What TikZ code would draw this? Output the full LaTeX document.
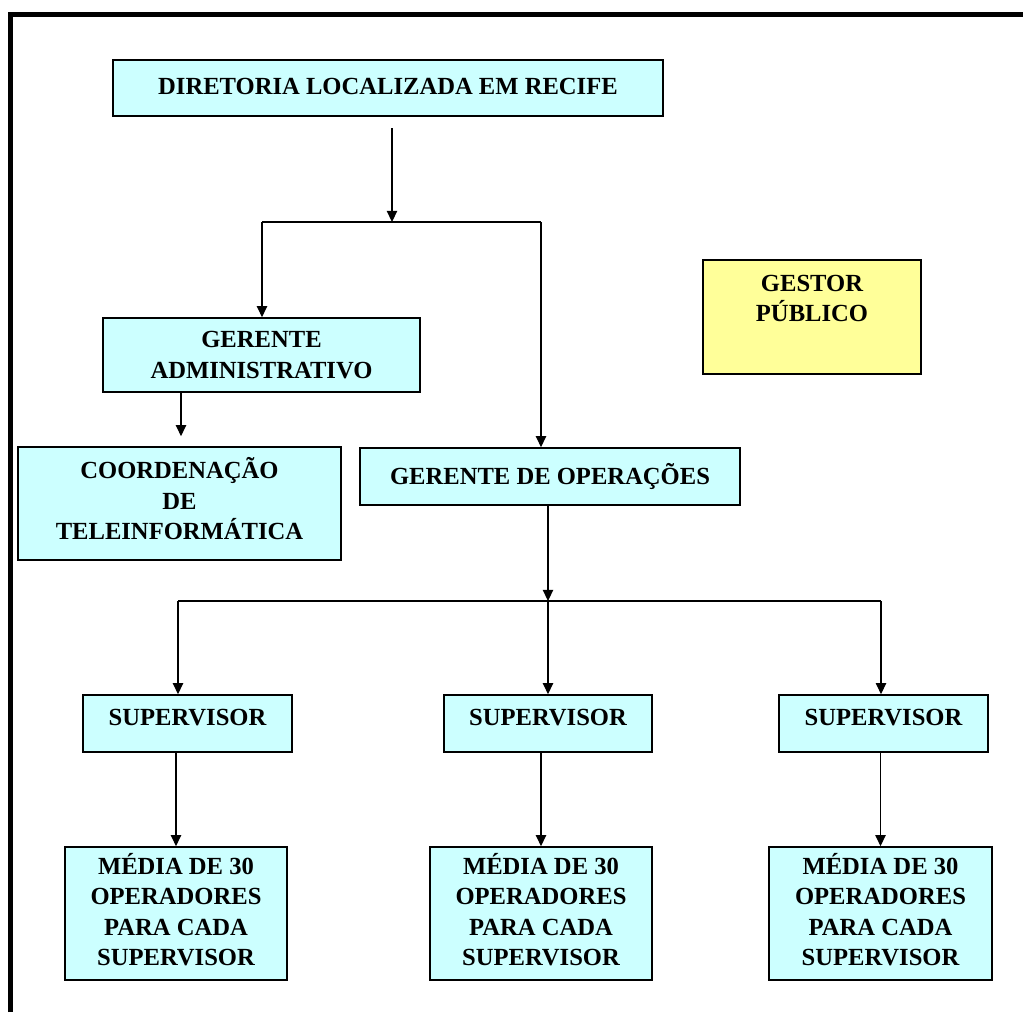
\documentclass[tikz,border=0pt]{standalone}
\usepackage{fontspec}
\setmainfont{Liberation Serif}
\usetikzlibrary{arrows.meta}
\definecolor{boxcyan}{HTML}{CCFFFF}
\definecolor{boxyellow}{HTML}{FFFF99}
\tikzset{
  orgbox/.style={draw, line width=1.1pt, fill=boxcyan, align=center, inner sep=2pt,
    font=\fontsize{17.5}{21.5}\selectfont\bfseries},
  gestorbox/.style={orgbox, fill=boxyellow},
  link/.style={line width=0.9pt},
  arr/.style={link, -{Triangle[length=0.28cm,width=0.26cm]}},
}
\begin{document}
\begin{tikzpicture}[x=0.025cm,y=-0.025cm]
\useasboundingbox (0,0) rectangle (1023,1012);
\fill[white] (0,0) rectangle (1023,1012);
\draw[line width=3.9pt] (10.3,1012) -- (10.3,14.7) -- (1023,14.7);

\node[orgbox, minimum width=13.75cm, minimum height=1.4cm, text depth=0.1cm] (diretoria) at (388,88) {DIRETORIA LOCALIZADA EM RECIFE};
\node[orgbox, minimum width=7.925cm, minimum height=1.85cm] (gadm) at (261.5,355) {GERENTE\\ADMINISTRATIVO};
\node[orgbox, minimum width=8.075cm, minimum height=2.825cm, text depth=0.25cm] (coord) at (179.5,503.5) {COORDENAÇÃO\\DE\\TELEINFORMÁTICA};
\node[orgbox, minimum width=9.5cm, minimum height=1.425cm, text depth=0.12cm] (gop) at (550,476.5) {GERENTE DE OPERAÇÕES};
\node[gestorbox, minimum width=5.45cm, minimum height=2.85cm, text depth=0.95cm] (gestor) at (812,317) {GESTOR\\PÚBLICO};

\node[orgbox, minimum width=5.225cm, minimum height=1.425cm, text depth=0.3cm] (sup1) at (187.5,723.5) {SUPERVISOR};
\node[orgbox, minimum width=5.2cm, minimum height=1.425cm, text depth=0.3cm] (sup2) at (548,723.5) {SUPERVISOR};
\node[orgbox, minimum width=5.225cm, minimum height=1.425cm, text depth=0.3cm] (sup3) at (883.5,723.5) {SUPERVISOR};

\node[orgbox, minimum width=5.55cm, minimum height=3.325cm, text depth=0.2cm] (media1) at (176,913.5) {MÉDIA DE 30\\OPERADORES\\PARA CADA\\SUPERVISOR};
\node[orgbox, minimum width=5.55cm, minimum height=3.325cm, text depth=0.2cm] (media2) at (541,913.5) {MÉDIA DE 30\\OPERADORES\\PARA CADA\\SUPERVISOR};
\node[orgbox, minimum width=5.575cm, minimum height=3.325cm, text depth=0.2cm] (media3) at (880.5,913.5) {MÉDIA DE 30\\OPERADORES\\PARA CADA\\SUPERVISOR};

\coordinate (top) at (392,128);
\coordinate (split) at (392,222);
\coordinate (splitl) at (262,222);
\coordinate (splitr) at (541,222);
\coordinate (down) at (181,0);
\coordinate (fork) at (548,601);
\coordinate (forkl) at (178,601);
\coordinate (forkr) at (881,601);

\draw[arr] (top) -- (split);
\draw[link] (splitl) -- (splitr);
\draw[arr] (splitl) -- (gadm.north -| splitl);
\draw[arr] (splitr) -- (gop.north -| splitr);
\draw[arr, shorten >=0.25cm] (gadm.south -| down) -- (coord.north -| down);

\draw[arr] (gop.south -| fork) -- (fork);
\draw[link] (forkl) -- (forkr);
\draw[arr] (forkl) -- (sup1.north -| forkl);
\draw[arr] (fork) -- (sup2.north);
\draw[arr] (forkr) -- (sup3.north -| forkr);

\draw[arr] (sup1.south -| media1.north) -- (media1.north);
\draw[arr] (sup2.south -| media2.north) -- (media2.north);
\draw[arr] (sup3.south -| media3.north) -- (media3.north);
\end{tikzpicture}
\end{document}
